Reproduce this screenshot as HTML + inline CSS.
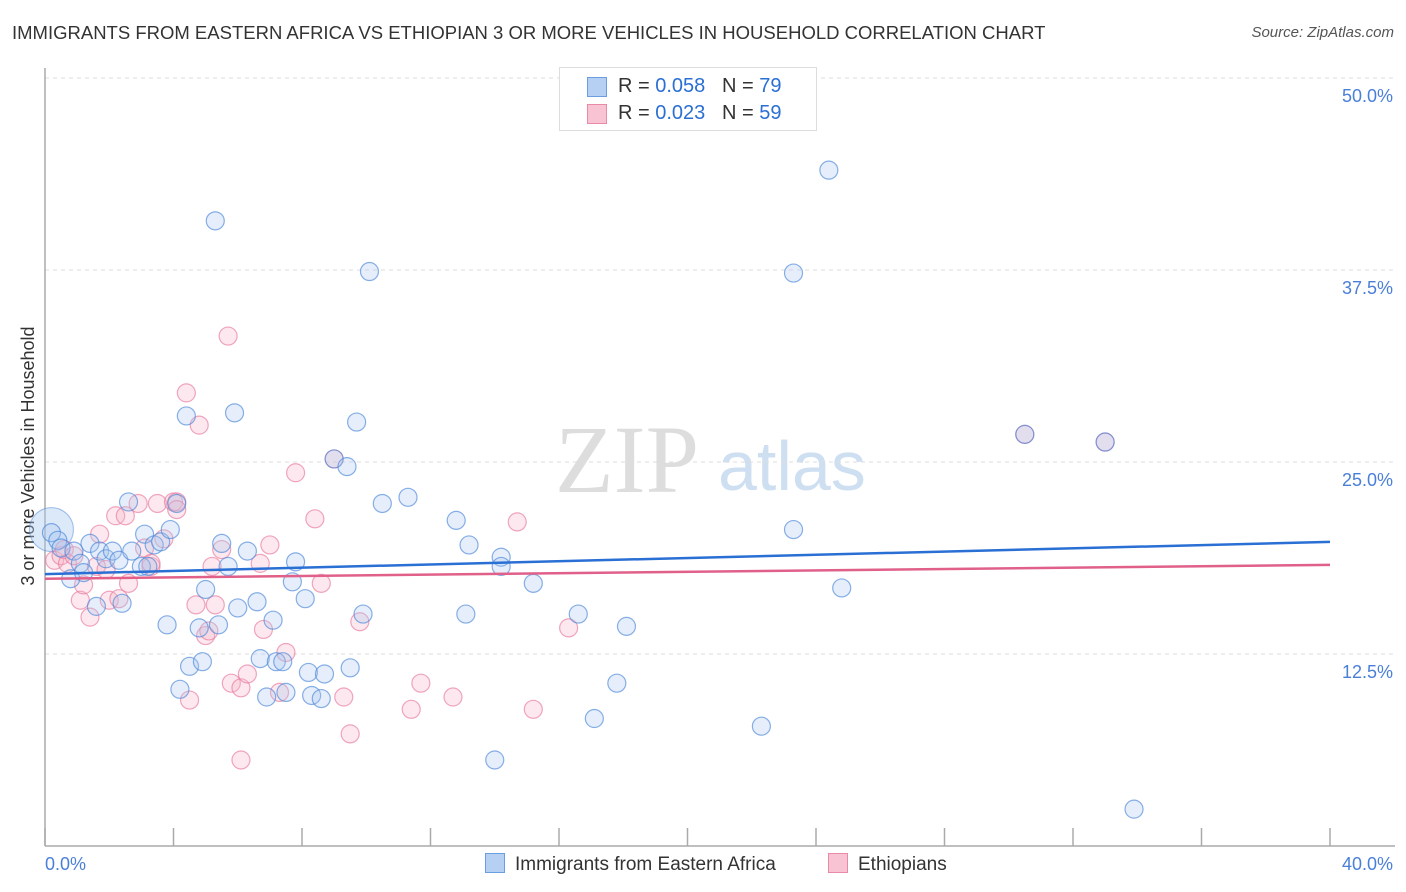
<!DOCTYPE html>
<html><head><meta charset="utf-8"><style>
body{margin:0;background:#fff;font-family:"Liberation Sans",sans-serif;}
#wrap{position:relative;width:1406px;height:892px;overflow:hidden;}
.t{position:absolute;white-space:nowrap;}
</style></head><body>
<div id="wrap">
<div class="t" style="left:12px;top:22px;font-size:18.5px;color:#333;">IMMIGRANTS FROM EASTERN AFRICA VS ETHIOPIAN 3 OR MORE VEHICLES IN HOUSEHOLD CORRELATION CHART</div>
<div class="t" style="right:12px;top:24px;font-size:15px;color:#555;font-style:italic;">Source: ZipAtlas.com</div>
<svg id="svg" width="1406" height="892" style="position:absolute;left:0;top:0"></svg>
</div>
<script>
const xTicks=[0,4,8,12,16,20,24,28,32,36,40];
const yTicks=[12.5,25,37.5,50];
const blueX=[0.2,0.4,0.5,0.8,0.9,1.1,1.2,1.4,1.6,1.7,1.9,2.1,2.3,2.4,2.6,2.7,3.0,3.1,3.2,3.4,3.6,3.8,3.9,4.1,4.2,4.4,4.5,4.8,4.9,5.0,5.3,5.4,5.5,5.7,5.9,6.0,6.3,6.6,6.7,6.9,7.1,7.2,7.4,7.5,7.7,7.8,8.1,8.2,8.3,8.6,8.7,9.0,9.4,9.5,9.7,9.9,10.1,10.5,11.3,12.8,13.1,13.2,14.0,14.2,14.2,15.2,16.6,17.1,17.8,18.1,22.3,23.3,23.3,24.4,24.8,30.5,33.0,33.9];
const blueY=[20.4,19.9,19.4,17.4,19.2,18.4,17.8,19.7,15.6,19.2,18.7,19.2,18.6,15.8,22.4,19.2,18.2,20.3,18.2,19.6,19.8,14.4,20.6,22.3,10.2,28.0,11.7,14.2,12.0,16.7,40.7,14.4,19.7,18.2,28.2,15.5,19.2,15.9,12.2,9.7,14.7,12.0,12.0,10.0,17.2,18.5,16.1,11.3,9.8,9.6,11.2,25.2,24.7,11.6,27.6,15.1,37.4,22.3,22.7,21.2,15.1,19.6,5.6,18.8,18.2,17.1,15.1,8.3,10.6,14.3,7.8,20.6,37.3,44.0,16.8,26.8,26.3,2.4];
const pinkX=[0.3,0.5,0.6,0.7,0.9,1.1,1.2,1.4,1.6,1.7,1.9,2.0,2.2,2.3,2.5,2.6,2.9,3.1,3.3,3.3,3.5,3.7,4.0,4.1,4.4,4.5,4.7,4.8,5.0,5.1,5.2,5.3,5.5,5.7,5.8,6.1,6.3,6.7,6.8,7.0,7.3,7.5,7.8,8.4,8.6,9.0,9.3,9.5,9.8,11.7,11.4,12.7,14.7,15.2,16.3,6.1,30.5,33.0,4.1];
const pinkY=[18.6,18.9,19.3,18.4,18.9,16.0,17.0,14.9,18.2,20.3,18.0,16.0,21.5,16.1,21.5,17.1,22.3,19.4,18.2,18.4,22.3,20.0,22.4,22.4,29.5,9.5,15.7,27.4,13.7,14.0,18.2,15.7,19.3,33.2,10.6,10.3,11.2,18.4,14.1,19.6,10.0,12.6,24.3,21.3,17.1,25.2,9.7,7.3,14.6,10.6,8.9,9.7,21.1,8.9,14.2,5.6,26.8,26.3,21.9];
const ns="http://www.w3.org/2000/svg";
const svg=document.getElementById('svg');
const X0=45,X1=1330,Y0=846,PX=192/12.5;
const sx=v=>X0+(v/40)*(X1-X0), sy=v=>Y0-v*PX;
function mk(tag,a){const e=document.createElementNS(ns,tag);for(const k in a)e.setAttribute(k,a[k]);svg.appendChild(e);return e;}
let w=mk('text',{x:555,y:492,'font-size':96,fill:'#ddd','font-family':'Liberation Serif,serif'});w.textContent='ZIP';


let w2=mk('text',{x:718,y:490,'font-size':70,fill:'#cfdff2','font-family':'Liberation Sans,sans-serif'});w2.textContent='atlas';


yTicks.forEach(v=>{
 const l=mk('line',{x1:X0,x2:1395,y1:sy(v),y2:sy(v),stroke:'#ddd','stroke-dasharray':'4,4'});
 
 
 const t=mk('text',{x:1393,y:sy(v)+24,'text-anchor':'end','font-size':18,fill:'#4a7fd8'});t.textContent=v.toFixed(1)+'%';
 
 
});
let ax=mk('line',{x1:X0,x2:X0,y1:68,y2:Y0,stroke:'#aaa','stroke-width':1.5});


let bx=mk('line',{x1:X0,x2:1395,y1:Y0,y2:Y0,stroke:'#aaa','stroke-width':1.5});


xTicks.forEach(v=>{
 const l=mk('line',{x1:sx(v),x2:sx(v),y1:828,y2:Y0,stroke:'#aaa','stroke-width':1.5});
 
 
});
let xl=mk('text',{x:45,y:870,'font-size':18,fill:'#4a7fd8'});xl.textContent='0.0%';


let xr=mk('text',{x:1393,y:870,'text-anchor':'end','font-size':18,fill:'#4a7fd8'});xr.textContent='40.0%';


let yt=mk('text',{x:0,y:0,'font-size':18,fill:'#333','text-anchor':'middle',transform:'translate(34,456) rotate(-90)'});yt.textContent='3 or more Vehicles in Household';


function pts(xs,ys,fill,stroke,name){xs.forEach((x,i)=>{const c=mk('circle',{cx:sx(x),cy:sy(ys[i]),r:9,fill:fill,'fill-opacity':0.3,stroke:stroke,'stroke-opacity':0.65,'stroke-width':1.2});
 
 });}
let big=mk('circle',{cx:sx(0.2),cy:sy(20.6),r:22,fill:'#a8c8f0','fill-opacity':0.4,stroke:'#4a86d8','stroke-opacity':0.5});


pts(pinkX,pinkY,'#f6b4c8','#e8789c','ethiopians-point');
pts(blueX,blueY,'#a8c8f0','#4a86d8','eastern-africa-point');
let tb=mk('line',{x1:sx(0),y1:sy(17.7),x2:sx(40),y2:sy(19.8),stroke:'#2a6fd4','stroke-width':2.5});


let tp=mk('line',{x1:sx(0),y1:sy(17.4),x2:sx(40),y2:sy(18.3),stroke:'#e0608a','stroke-width':2.5});


</script>
<div class="t" style="left:559px;top:67px;width:256px;height:62px;border:1px solid #ddd;background:#fff;">
 <div style="position:absolute;left:27px;top:9px;width:18px;height:18px;background:#b6d0f4;border:1px solid #6a9ee0;"></div>
 <div class="t" style="left:58px;top:7px;font-size:20px;color:#333;">R = <span style="color:#2a6fd4">0.058</span>&nbsp;&nbsp;&nbsp;N = <span style="color:#2a6fd4">79</span></div>
 <div style="position:absolute;left:27px;top:36px;width:18px;height:18px;background:#f8c4d4;border:1px solid #e88aa8;"></div>
 <div class="t" style="left:58px;top:34px;font-size:20px;color:#333;">R = <span style="color:#2a6fd4">0.023</span>&nbsp;&nbsp;&nbsp;N = <span style="color:#2a6fd4">59</span></div>
</div>
<div class="t" style="left:485px;top:853px;font-size:19px;color:#333;"><span style="display:inline-block;width:18px;height:18px;background:#b6d0f4;border:1px solid #6a9ee0;vertical-align:-3px;margin-right:10px"></span>Immigrants from Eastern Africa</div>
<div class="t" style="left:828px;top:853px;font-size:19px;color:#333;"><span style="display:inline-block;width:18px;height:18px;background:#f8c4d4;border:1px solid #e88aa8;vertical-align:-3px;margin-right:10px"></span>Ethiopians</div>
</body></html>
